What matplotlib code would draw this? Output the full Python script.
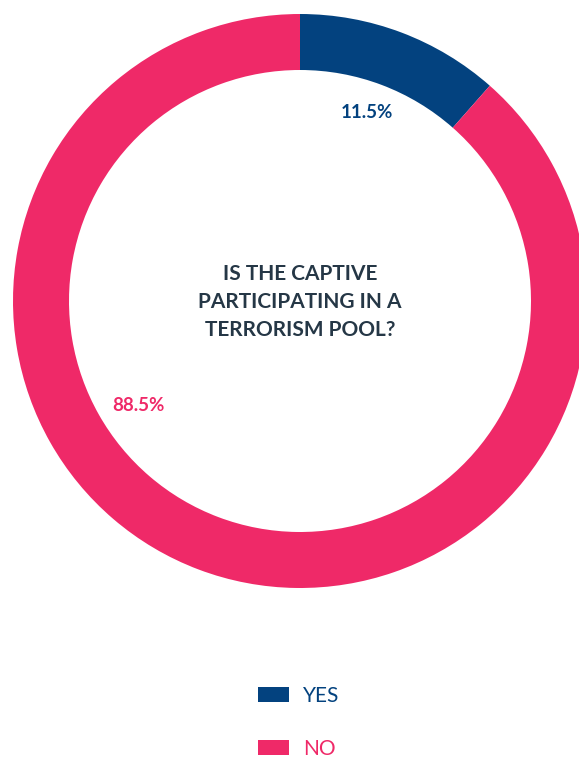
import numpy as np
import matplotlib.pyplot as plt

plt.rcParams['font.family'] = ['Lato', 'DejaVu Sans']

# dati
categories = ['YES', 'NO']
shares = [11.5, 88.5]
pct_labels = ['11.5%', '88.5%']
title_lines = ['IS THE CAPTIVE', 'PARTICIPATING IN A', 'TERRORISM POOL?']

colors = ['#03427F', '#EF2968']
text_dark = '#253746'

W, H = 579, 759
fig = plt.figure(figsize=(W / 100, H / 100), dpi=100)
ax = fig.add_axes([0, 0, 1, 1])

# centro e raggi in pixel
cx, cy = 300, H - 301
r_out, ring = 287, 56

wedges, _ = ax.pie(shares, colors=colors, startangle=90, counterclock=False,
                   radius=r_out, center=(cx, cy),
                   wedgeprops=dict(width=ring, edgecolor='none', linewidth=0))

ax.set_xlim(0, W)
ax.set_ylim(0, H)
ax.set_aspect('equal')
ax.axis('off')

# etichette percentuali (raggio, angolo in gradi)
label_pos = [(200, 70.5), (192, 212.9)]
for txt, col, (rr, ang) in zip(pct_labels, colors, label_pos):
    a = np.deg2rad(ang)
    ax.text(cx + rr * np.cos(a), cy + rr * np.sin(a), txt, color=col,
            fontsize=13.5, fontweight='bold', ha='center', va='center')

# titolo centrale
ax.text(cx, cy - 1, '\n'.join(title_lines), color=text_dark, fontsize=15,
        fontweight='bold', ha='center', va='center', linespacing=1.5)

# legenda
leg = ax.legend(wedges, categories, loc='center',
                bbox_to_anchor=(299 / W, 1 - 722.5 / H),
                frameon=False, fontsize=15, handlelength=1.49, handleheight=0.72,
                handletextpad=0.67, labelspacing=1.6, borderpad=0.2)
for t, c in zip(leg.get_texts(), colors):
    t.set_color(c)

fig.savefig('out.png', dpi=100)
